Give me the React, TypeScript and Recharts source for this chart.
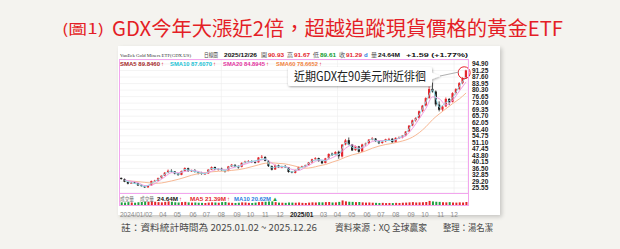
import React from "react";
import {
    ComposedChart,
    Bar,
    Line,
    XAxis,
    YAxis,
    CartesianGrid,
    ReferenceDot,
    Cell,
} from "recharts";

// weekly bars, each dated on its Friday
const DAY = 86400000;
const FIRST_FRIDAY = "2024-01-05";

const opens = [
    31.2, 30.5, 29.0, 28.0, 28.7, 28.2, 27.1, 26.6, 25.9, 27.0,
    29.3, 29.7, 31.1, 32.5, 34.2, 35.1, 34.8, 33.5, 32.9, 35.1,
    36.6, 35.0, 35.4, 34.5, 34.1, 33.5, 33.7, 35.9, 37.3, 35.8,
    36.3, 35.3, 35.1, 37.7, 38.5, 37.5, 37.4, 39.7, 40.4, 40.6,
    40.1, 39.9, 42.7, 42.9, 40.7, 37.7, 35.9, 38.2, 37.0, 37.6,
    37.1, 34.6, 34.0, 35.7, 37.3, 37.7, 38.3, 39.9, 41.7, 42.3,
    40.5, 39.5, 42.2, 44.7, 44.1, 45.8, 43.2, 49.9, 52.3, 49.8,
    46.7, 48.8, 45.9, 50.0, 50.5, 52.7, 53.2, 51.7, 50.7, 51.7,
    52.9, 53.1, 51.1, 53.7, 53.8, 54.9, 57.2, 60.5, 63.5, 64.8,
    68.6, 71.7, 75.9, 81.0, 79.5, 72.2, 69.4, 71.2, 75.3, 73.7,
    78.7, 80.9, 84.3, 87.0,
];
const highs = [
    31.4, 30.9, 29.2, 29.1, 29.3, 28.4, 27.6, 26.9, 27.2, 29.7,
    30.1, 31.4, 32.6, 34.5, 35.9, 36.0, 35.0, 33.9, 35.3, 37.1,
    36.9, 35.8, 36.1, 34.8, 34.6, 34.2, 36.1, 37.6, 37.5, 36.7,
    36.9, 35.8, 37.9, 39.0, 38.8, 38.2, 39.9, 40.8, 41.2, 41.0,
    40.6, 42.9, 44.0, 43.3, 41.2, 38.1, 38.7, 38.6, 38.0, 38.4,
    37.3, 35.0, 35.9, 37.5, 38.0, 38.6, 40.1, 41.9, 42.8, 42.5,
    40.9, 42.4, 44.9, 45.3, 46.1, 46.4, 50.1, 53.0, 53.8, 50.2,
    49.3, 49.1, 50.3, 50.9, 52.9, 54.0, 53.5, 52.0, 52.0, 53.1,
    53.6, 53.4, 53.9, 54.4, 55.2, 57.4, 60.8, 63.8, 65.2, 68.9,
    72.0, 76.3, 82.3, 84.5, 80.1, 74.0, 71.8, 76.2, 75.9, 79.1,
    81.4, 84.8, 87.5, 91.7,
];
const lows = [
    30.2, 28.8, 27.6, 27.8, 28.0, 26.7, 26.3, 25.6, 25.7, 26.9,
    28.9, 29.3, 30.8, 32.3, 33.8, 34.3, 33.2, 32.4, 32.7, 34.9,
    34.6, 34.5, 34.2, 33.2, 33.0, 32.9, 33.5, 35.6, 35.5, 35.2,
    35.1, 34.2, 34.9, 37.3, 37.2, 36.4, 37.1, 39.2, 39.9, 39.5,
    39.2, 39.7, 42.1, 40.5, 37.3, 35.4, 35.7, 36.8, 36.6, 36.9,
    34.1, 33.8, 33.7, 35.4, 36.8, 37.2, 37.9, 39.5, 41.1, 40.3,
    38.9, 39.3, 41.8, 43.5, 43.8, 41.9, 42.6, 49.4, 49.5, 46.2,
    46.4, 45.3, 45.7, 49.2, 50.1, 52.2, 51.4, 50.1, 50.3, 51.2,
    52.1, 50.8, 50.7, 53.0, 53.3, 54.5, 56.9, 60.1, 62.6, 64.3,
    67.9, 71.2, 75.4, 78.9, 71.2, 68.4, 68.6, 70.8, 71.9, 73.4,
    77.9, 80.4, 83.6, 86.5,
];
const closes = [
    30.6, 29.0, 28.0, 28.6, 28.3, 27.0, 26.7, 25.9, 26.9, 29.4,
    29.6, 31.0, 32.4, 34.1, 35.2, 34.9, 33.6, 32.8, 35.0, 36.7,
    35.0, 35.3, 34.6, 34.0, 33.4, 33.6, 35.8, 37.2, 35.9, 36.2,
    35.6, 35.0, 37.6, 38.6, 37.6, 37.3, 39.6, 40.3, 40.5, 40.2,
    39.8, 42.6, 43.0, 40.8, 37.8, 35.8, 38.3, 37.1, 37.5, 37.2,
    34.5, 34.2, 35.6, 37.2, 37.6, 38.2, 39.8, 41.6, 42.2, 40.6,
    39.4, 42.1, 44.6, 44.0, 45.7, 43.3, 49.8, 52.2, 49.9, 46.6,
    48.9, 45.8, 49.9, 50.4, 52.6, 53.3, 51.8, 50.6, 51.6, 52.8,
    53.0, 51.2, 53.6, 53.7, 54.8, 57.1, 60.4, 63.4, 64.7, 68.5,
    71.6, 75.8, 80.9, 79.6, 72.3, 69.3, 71.1, 75.4, 73.6, 78.6,
    80.8, 84.2, 86.9, 91.3,
];
// millions of shares
const volumes = [
    22, 20, 24, 21, 19, 23, 25, 28, 26, 31, 27, 24, 22, 26, 30, 27, 23, 21, 24, 26,
    22, 20, 21, 19, 18, 17, 20, 22, 21, 19, 24, 25, 20, 18, 17, 19, 22, 21, 18, 17,
    20, 24, 26, 27, 29, 30, 24, 20, 19, 18, 21, 20,
    19, 21, 18, 17, 20, 22, 21, 23, 22, 24, 25, 21, 22, 26, 38, 30, 27, 26, 24, 25,
    22, 20, 21, 19, 18, 17, 18, 16, 17, 16, 18, 17, 19, 20, 22, 24, 21, 22, 23, 25,
    34, 30, 27, 26, 23, 22, 24, 21, 20, 22, 21, 25,
];

// moving averages read every second week
const sma10 = [
    29.8, 28.4, 27.7, 26.3, 28.2, 30.3, 33.3, 35.0, 33.2, 35.9,
    35.2, 34.3, 33.5, 36.5, 36.1, 35.3, 38.1, 37.5, 40.0, 40.4,
    41.2, 41.9, 36.8, 37.7, 37.4, 34.4,
    36.4, 37.9, 40.7, 41.4, 40.8, 44.3, 44.5, 51.0, 48.3, 47.4,
    50.2, 53.0, 51.2, 52.2, 52.1, 53.7, 56.0, 61.9, 66.6, 73.7,
    80.3, 70.8, 73.3, 76.1, 82.5, 87.6,
];
const sma20 = [
    30.0, 29.3, 28.5, 26.9, 27.2, 29.2, 31.8, 34.1, 34.1, 34.8,
    35.5, 34.8, 33.9, 35.0, 36.3, 35.7, 36.7, 37.8, 38.9, 40.1,
    40.8, 41.6, 39.4, 37.3, 37.5, 35.9,
    35.4, 37.2, 39.3, 41.1, 41.1, 42.5, 44.4, 47.8, 49.6, 47.8,
    48.8, 51.6, 52.1, 52.1, 52.2, 53.4, 54.8, 58.9, 64.3, 70.1,
    76.5, 75.5, 72.0, 74.7, 79.8, 84.9,
];
const sma60 = [
    29.6, 29.4, 29.1, 28.7, 28.3, 28.2, 28.7, 29.5, 30.4, 31.5,
    32.7, 33.6, 34.1, 34.6, 34.9, 35.0, 35.4, 35.8, 36.5, 37.5,
    38.5, 39.4, 39.6, 39.3, 39.0, 38.2,
    37.3, 36.6, 37.0, 37.9, 38.7, 40.0, 41.2, 42.8, 44.1, 45.0,
    46.3, 47.8, 49.0, 49.9, 50.5, 51.4, 52.4, 54.0, 56.5, 59.8,
    63.8, 67.0, 69.9, 72.8, 75.4, 78.7,
];

const priceTicks = [
    94.9, 91.25, 87.6, 83.95, 80.3, 76.65, 73.0, 69.35, 65.7, 62.05,
    58.4, 54.75, 51.1, 47.45, 43.8, 40.15, 36.5, 32.85, 29.2, 25.55,
];

const labelDates = [
    "2024-01-02", "2024-04-01", "2024-05-01", "2024-06-03", "2024-07-01",
    "2024-08-01", "2024-09-03", "2024-10-01", "2024-11-01", "2024-12-02",
    "2025-01-02", "2025-03-03", "2025-04-01", "2025-05-01", "2025-06-02",
    "2025-07-01", "2025-08-01", "2025-09-02", "2025-10-01", "2025-11-03",
    "2025-12-01",
];
const labelTexts = [
    "2024/01/02", "04", "05", "06", "07", "08", "09", "10", "11", "12",
    "2025/01", "03", "04", "05", "06", "07", "08", "09", "10", "11", "12",
];
const extraGridDates = ["2024-02-01", "2024-03-01", "2025-02-03"];

const X_DOMAIN = [Date.parse("2023-12-31"), Date.parse("2025-12-30")];
const Y_DOMAIN = [22.75, 97.14];

const UP = "#e3262c";
const DOWN = "#1e1e1e";
const VOL_DOWN = "#20a040";
const PINK = "#f2a6ee";
const SANS = "'Liberation Sans', 'Noto Sans CJK TC', sans-serif";
const CJK = "'Noto Sans CJK TC', 'Noto Sans', sans-serif";

const rows = closes.map((c, i) => ({
    t: Date.parse(FIRST_FRIDAY) + i * 7 * DAY,
    range: [lows[i], highs[i]],
    open: opens[i],
    close: c,
    vol: volumes[i],
    sma10: i % 2 === 1 ? sma10[(i - 1) / 2] : null,
    sma20: i % 2 === 1 ? sma20[(i - 1) / 2] : null,
    sma60: i % 2 === 1 ? sma60[(i - 1) / 2] : null,
}));

const labelTicks = labelDates.map((d) => Date.parse(d));
const gridTicks = [...labelTicks, ...extraGridDates.map((d) => Date.parse(d))].sort(
    (a, b) => a - b
);

const Candle = (props: any) => {
    const { x, y, width, height, payload } = props;
    const [lo, hi] = payload.range;
    const k = hi === lo ? 0 : height / (hi - lo);
    const yo = y + (hi - payload.open) * k;
    const yc = y + (hi - payload.close) * k;
    const color = payload.close >= payload.open ? UP : DOWN;
    const cx = x + width / 2;
    return (
        <g>
            <line x1={cx} x2={cx} y1={y} y2={y + height} stroke={color} strokeWidth={0.8} />
            <rect
                x={cx - 1.1}
                y={Math.min(yo, yc)}
                width={2.2}
                height={Math.max(Math.abs(yc - yo), 0.8)}
                fill={color}
            />
        </g>
    );
};

const PriceTick = ({ x, y, payload }: any) => (
    <text x={x} y={y} dy="0.35em" fontSize={6.5} fontWeight={700} fontFamily={SANS} fill="#222">
        {payload.value.toFixed(2)}
    </text>
);

const VolTick = ({ x, y }: any) => (
    <text x={x} y={y} dy="0.35em" fontSize={6.5} fontWeight={700} fontFamily={SANS} fill="#222">
        50.00M
    </text>
);

const DateTick = ({ x, y, payload }: any) => {
    const i = labelTicks.indexOf(payload.value);
    const label = labelTexts[i] ?? "";
    const long = label.length > 2;
    return (
        <text
            x={i === 0 ? x : long ? x - 5 : x}
            y={y + 4}
            textAnchor={long ? "start" : "middle"}
            fontSize={6.5}
            fontWeight={label === "2025/01" ? 700 : 400}
            fontFamily={SANS}
            fill={label === "2025/01" ? "#222" : "#8a8a8a"}
        >
            {label}
        </text>
    );
};

const T = (p: any) => {
    const { x, y, len, size = 6, color = "#333", bold, family = SANS, children } = p;
    return (
        <text
            x={x}
            y={y}
            fontSize={size}
            fill={color}
            fontWeight={bold ? 700 : 400}
            fontFamily={family}
            textLength={len}
            lengthAdjust={len ? "spacingAndGlyphs" : undefined}
        >
            {children}
        </text>
    );
};

export default function App() {
    return (
        <div
            style={{
                position: "fixed",
                left: 0,
                top: 0,
                width: 620,
                height: 249,
                background: "#f4f3ef",
                overflow: "hidden",
            }}
        >
            <div
                style={{
                    position: "absolute",
                    left: 118,
                    top: 46,
                    width: 382,
                    height: 169,
                    background: "#fff",
                    boxShadow: "2px 2px 4px rgba(0,0,0,0.18)",
                }}
            />
            <div style={{ position: "absolute", left: 119, top: 60 }}>
                <ComposedChart
                    width={380}
                    height={133}
                    data={rows}
                    margin={{ top: 0, right: 0, bottom: 0, left: 0 }}
                >
                    <CartesianGrid stroke="#ededed" strokeWidth={0.6} />
                    <XAxis
                        dataKey="t"
                        type="number"
                        domain={X_DOMAIN}
                        ticks={gridTicks}
                        allowDataOverflow
                        hide
                    />
                    <YAxis
                        orientation="right"
                        width={31}
                        domain={Y_DOMAIN}
                        ticks={priceTicks}
                        allowDataOverflow
                        axisLine={false}
                        tickLine={false}
                        tickSize={0}
                        tickMargin={4}
                        tick={<PriceTick />}
                        interval={0}
                    />
                    <Line dataKey="sma60" stroke="#f7b894" strokeWidth={1} dot={false} connectNulls isAnimationActive={false} type="monotone" />
                    <Line dataKey="sma20" stroke="#ee9ee4" strokeWidth={1} dot={false} connectNulls isAnimationActive={false} type="monotone" />
                    <Line dataKey="sma10" stroke="#8fd9e6" strokeWidth={1} dot={false} connectNulls isAnimationActive={false} type="monotone" />
                    <Bar dataKey="range" shape={<Candle />} barSize={3} isAnimationActive={false} />
                    <ReferenceDot
                        x={Date.parse("2025-12-22")}
                        y={90}
                        r={6}
                        fill="none"
                        stroke="#e8202a"
                        strokeWidth={1}
                    />
                </ComposedChart>
            </div>
            <div style={{ position: "absolute", left: 119, top: 193 }}>
                <ComposedChart
                    width={380}
                    height={26}
                    data={rows}
                    margin={{ top: 0, right: 0, bottom: 0, left: 0 }}
                >
                    <XAxis
                        dataKey="t"
                        type="number"
                        domain={X_DOMAIN}
                        ticks={labelTicks}
                        allowDataOverflow
                        height={14}
                        axisLine={false}
                        tickLine={false}
                        tick={<DateTick />}
                        interval={0}
                    />
                    <YAxis
                        orientation="right"
                        width={31}
                        domain={[0, 100]}
                        ticks={[50]}
                        axisLine={false}
                        tickLine={false}
                        tickSize={0}
                        tickMargin={4}
                        tick={<VolTick />}
                    />
                    <Bar dataKey="vol" barSize={2} isAnimationActive={false}>
                        {rows.map((r, i) => (
                            <Cell key={i} fill={r.close >= r.open ? UP : VOL_DOWN} />
                        ))}
                    </Bar>
                </ComposedChart>
            </div>
            <svg
                width={620}
                height={249}
                style={{ position: "absolute", left: 0, top: 0, pointerEvents: "none" }}
            >
                <defs>
                    <filter id="sh" x="-10%" y="-30%" width="120%" height="160%">
                        <feDropShadow dx="0.5" dy="1" stdDeviation="1.2" floodOpacity="0.35" />
                    </filter>
                </defs>
                {/* title */}
                <T x={62} y={34} size={14} color="#e41e26" family={CJK} len={42}>
                    (圖1)
                </T>
                <T x={112} y={36} size={20} color="#e41e26" family={CJK} len={451}>
                    GDX今年大漲近2倍，超越追蹤現貨價格的黃金ETF
                </T>

                {/* panel borders */}
                <rect x={119.5} y={59.5} width={349} height={134} fill="none" stroke={PINK} strokeWidth={1} />
                <rect x={119.5} y={193.5} width={349} height={12} fill="none" stroke={PINK} strokeWidth={1} />

                {/* header row */}
                <T x={120} y={57} size={4.8} len={71} family="'Liberation Serif', serif" color="#333">
                    VanEck Gold Miners ETF(GDX.US)
                </T>
                <T x={204} y={57} len={14} family={CJK} color="#444">日線圖</T>
                <T x={224} y={57} len={33} bold color="#111">2025/12/26</T>
                <T x={261} y={57} family={CJK} color="#555">開</T>
                <T x={268} y={57} len={16} bold color={UP}>90.93</T>
                <T x={287} y={57} family={CJK} color="#555">高</T>
                <T x={294} y={57} len={16} bold color={UP}>91.67</T>
                <T x={313} y={57} family={CJK} color="#555">低</T>
                <T x={320} y={57} len={16} bold color="#119b2e">89.61</T>
                <T x={339} y={57} family={CJK} color="#555">收</T>
                <T x={346} y={57} len={16} bold color={UP}>91.29</T>
                <T x={364} y={57} bold color="#2a7de1">d</T>
                <T x={371} y={57} family={CJK} color="#555">量</T>
                <T x={378} y={57} len={22} bold color="#111">24.64M</T>
                <T x={406} y={57} len={62} bold color="#111">+1.59 (+1.77%)</T>

                {/* SMA row */}
                <T x={120} y={66} len={40} bold color="#a52a2a">SMA5 89.8460</T>
                <T x={161} y={66} bold color={UP}>↑</T>
                <T x={170} y={66} len={42} bold color="#1bc3d5">SMA10 87.6070</T>
                <T x={213} y={66} bold color={UP}>↑</T>
                <T x={223} y={66} len={42} bold color="#e2329d">SMA20 84.8945</T>
                <T x={266} y={66} bold color={UP}>↑</T>
                <T x={276} y={66} len={42} bold color="#f0823d">SMA60 78.6652</T>
                <T x={319} y={66} bold color={UP}>↑</T>

                {/* volume row */}
                <T x={120} y={201} len={14} family={CJK} color="#777">成交量</T>
                <T x={140} y={201} len={14} family={CJK} color="#777">成交量</T>
                <T x={157} y={201} len={21} bold color="#111">24.64M</T>
                <T x={179} y={201} bold color={UP}>↑</T>
                <T x={190} y={201} len={36} bold color={UP}>MA5 21.39M</T>
                <T x={227} y={201} bold color={UP}>↑</T>
                <T x={234} y={201} len={37} bold color="#2a7de1">MA10 20.62M</T>
                <T x={272} y={201} bold color="#20a040">▲</T>

                {/* callout */}
                <g filter="url(#sh)">
                    <rect x={288} y={67} width={144} height={19} rx={2} fill="#fff" />
                    <polygon points="431,72.5 440,76 431,79.5" fill="#fff" />
                </g>
                <line x1={440} y1={76} x2={459} y2={72} stroke="#9a9a9a" strokeWidth={0.8} />
                <T x={294} y={81} size={12.5} len={132} family={CJK} color="#222">
                    近期GDX在90美元附近徘徊
                </T>

                {/* footnote */}
                <T x={121} y={231} size={9.5} len={196} family={CJK} color="#4a4a4a">
                    註：資料統計時間為 2025.01.02 ~ 2025.12.26
                </T>
                <T x={335} y={231} size={9.5} len={92} family={CJK} color="#4a4a4a">
                    資料來源：XQ 全球贏家
                </T>
                <T x={443} y={231} size={9.5} len={50} family={CJK} color="#4a4a4a">
                    整理：湯名潔
                </T>
            </svg>
        </div>
    );
}
